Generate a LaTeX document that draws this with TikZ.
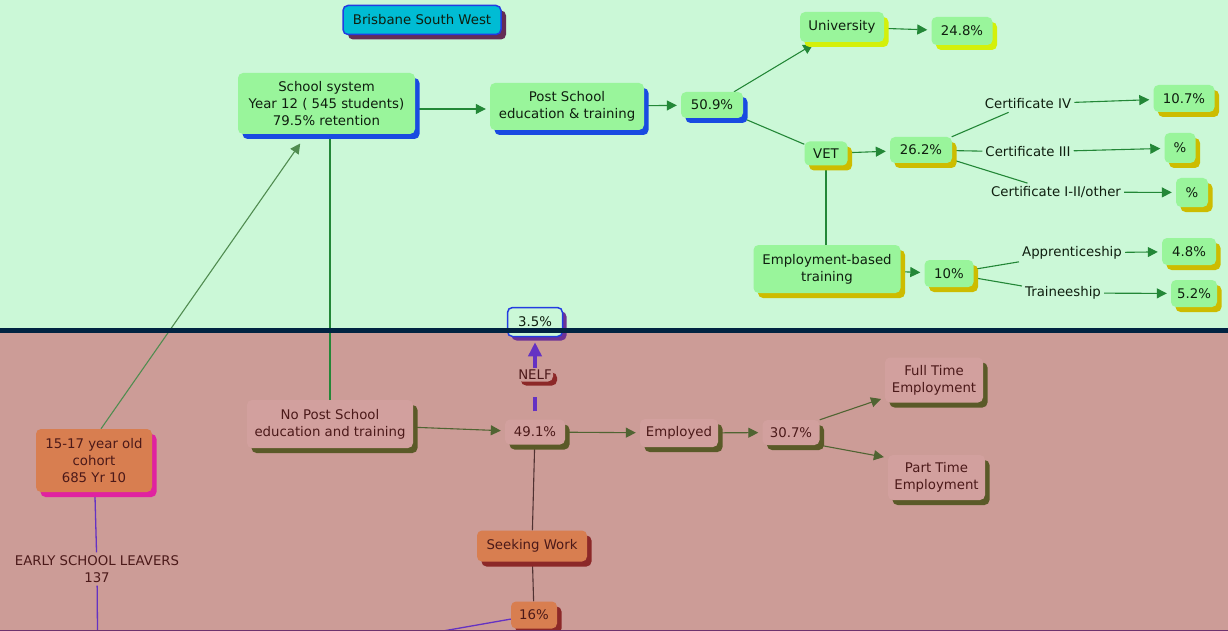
\documentclass[tikz,border=0pt]{standalone}
\usepackage{fontspec}
\setmainfont{DejaVu Sans}
\usetikzlibrary{shadows,arrows.meta,calc}
\pgfdeclarelayer{back}
\pgfdeclarelayer{edges}
\pgfsetlayers{back,edges,main}
\definecolor{topbg}{RGB}{203,248,215}
\definecolor{botbg}{RGB}{204,156,151}
\definecolor{sepc}{RGB}{0,35,65}
\definecolor{ngreen}{RGB}{153,245,155}
\definecolor{npink}{RGB}{210,160,158}
\definecolor{norange}{RGB}{216,126,80}
\definecolor{ncyan}{RGB}{0,188,212}
\definecolor{sblue}{RGB}{25,75,225}
\definecolor{sygreen}{RGB}{212,240,10}
\definecolor{sgold}{RGB}{205,188,0}
\definecolor{solive}{RGB}{90,90,40}
\definecolor{smag}{RGB}{224,35,160}
\definecolor{sdred}{RGB}{140,40,40}
\definecolor{sdark}{RGB}{100,45,85}
\definecolor{spurp}{RGB}{110,50,150}
\definecolor{bblue}{RGB}{35,60,225}
\definecolor{toptext}{RGB}{15,30,15}
\definecolor{bottext}{RGB}{75,25,25}
\definecolor{gline}{RGB}{35,135,55}
\definecolor{cline}{RGB}{80,140,80}
\definecolor{oline}{RGB}{80,100,50}
\definecolor{dline}{RGB}{80,50,50}
\definecolor{pline}{RGB}{100,50,195}
\definecolor{edgec}{RGB}{110,50,110}
\newcommand\dgfont{\fontsize{13.3}{17}\selectfont}
\begin{document}
\begin{tikzpicture}[x=1pt,y=-1pt,
  box/.style={rectangle, rounded corners=5pt, inner sep=0pt, align=center, font=\dgfont, text=toptext},
  gbox/.style={box, fill=ngreen, drop shadow={shadow xshift=4.5pt, shadow yshift=-5pt, fill=#1, opacity=1}},
  pbox/.style={box, fill=npink, text=bottext, drop shadow={shadow xshift=4.5pt, shadow yshift=-5pt, fill=solive, opacity=1}},
  obox/.style={box, fill=norange, text=bottext, drop shadow={shadow xshift=4.5pt, shadow yshift=-5pt, fill=#1, opacity=1}},
  lbl/.style={inner sep=3pt, font=\dgfont, text=toptext, align=center},
  ge/.style={draw=gline, line width=1.1pt},
  ga/.style={ge, -{Triangle[length=10pt,width=10pt]}, shorten >=4pt},
  oe/.style={draw=oline, line width=1.1pt},
  oa/.style={oe, -{Triangle[length=10pt,width=10pt]}, shorten >=4pt},
  de/.style={draw=dline, line width=1.1pt},
  pe/.style={draw=pline, line width=1.3pt},
  pthick/.style={draw=pline, line width=3.5pt}
]
\useasboundingbox (0,0) rectangle (1228,631);
\begin{pgfonlayer}{back}
\fill[topbg] (0,0) rectangle (1228,331);
\fill[botbg] (0,331) rectangle (1228,631);
\end{pgfonlayer}

% top nodes
\node[box, fill=ncyan, draw=bblue, line width=1.5pt, minimum width=158, minimum height=29,
  drop shadow={shadow xshift=5pt, shadow yshift=-5pt, fill=sdark, opacity=1}] (bsw) at (422,20) {Brisbane South West};
\node[gbox=sblue, minimum width=177, minimum height=61] (school) at (326.5,103.5) {School system\\Year 12 ( 545 students)\\79.5\% retention};
\node[gbox=sblue, minimum width=154, minimum height=47] (post) at (567,106.5) {Post School\\education \& training};
\node[gbox=sblue, minimum width=62, minimum height=26] (p509) at (712,105) {50.9\%};
\node[gbox=sygreen, minimum width=84, minimum height=30] (univ) at (842,27) {University};
\node[gbox=sygreen, minimum width=61, minimum height=28] (p248) at (962,31) {24.8\%};
\node[gbox=sgold, minimum width=43, minimum height=24] (vet) at (826,153.5) {VET};
\node[gbox=sgold, minimum width=62, minimum height=26] (p262) at (921,150) {26.2\%};
\node[lbl] (cert4) at (1028,104) {Certificate IV};
\node[lbl] (cert3) at (1028,152) {Certificate III};
\node[lbl] (cert12) at (1056,192) {Certificate I-II/other};
\node[gbox=sgold, minimum width=61, minimum height=27] (p107) at (1184,98.5) {10.7\%};
\node[gbox=sgold, minimum width=31, minimum height=30] (pc3) at (1180,148) {\%};
\node[gbox=sgold, minimum width=32, minimum height=29] (pc12) at (1192,192.5) {\%};
\node[gbox=sgold, minimum width=147, minimum height=48] (ebt) at (827,269) {Employment-based\\training};
\node[gbox=sgold, minimum width=49, minimum height=27] (p10) at (949,273.5) {10\%};
\node[lbl] (appr) at (1072,253) {Apprenticeship};
\node[lbl] (trai) at (1063,293) {Traineeship};
\node[gbox=sgold, minimum width=54, minimum height=27] (p48) at (1189,251.5) {4.8\%};
\node[gbox=sgold, minimum width=46, minimum height=27] (p52) at (1194,293.5) {5.2\%};

% bottom nodes
\node[box, fill=topbg, draw=bblue, line width=1.5pt, minimum width=55, minimum height=29,
  drop shadow={shadow xshift=4pt, shadow yshift=-4pt, fill=spurp, opacity=1}] (p35) at (535,322) {3.5\%};
\node[box, fill=botbg, text=bottext, minimum width=36, minimum height=13,
  drop shadow={shadow xshift=4pt, shadow yshift=-4pt, fill=sdred, opacity=1}] (nelf) at (535,375) {NELF};
\node[obox=smag, minimum width=116, minimum height=63] (cohort) at (94,460.5) {15-17 year old\\cohort\\685 Yr 10};
\node[pbox, minimum width=166, minimum height=48] (nopost) at (330,424) {No Post School\\education and training};
\node[pbox, minimum width=60, minimum height=25] (p491) at (535,432) {49.1\%};
\node[pbox, minimum width=78, minimum height=28] (emp) at (679,433) {Employed};
\node[pbox, minimum width=57, minimum height=25] (p307) at (791,432.5) {30.7\%};
\node[pbox, minimum width=98, minimum height=45] (ft) at (934,380) {Full Time\\Employment};
\node[pbox, minimum width=97, minimum height=45] (pt) at (936.5,477.5) {Part Time\\Employment};
\node[obox=sdred, minimum width=110, minimum height=31] (seek) at (532,546) {Seeking Work};
\node[obox=sdred, minimum width=46, minimum height=27] (p16) at (534,615) {16\%};
\node[lbl, text=bottext] (early) at (97,569) {EARLY SCHOOL LEAVERS\\137};
\coordinate (offA) at (443,631);
\coordinate (offB) at (97.5,631);

% separator and bottom edge
\draw[sepc, line width=5pt] (0,330.8) -- (1228,330.8);
\draw[edgec, line width=1.2pt] (0,630.4) -- (1228,630.4);

\begin{pgfonlayer}{edges}
\draw[ga, draw=cline] ($(cohort.north)+(7,0)$) -- ($(school.south)+(-24,6)$);
\draw[ge] (school.south -| nopost.north) -- (nopost.north);
\draw[ga] ($(school.east)+(0,5.5)$) -- ($(post.west)+(0,2.5)$);
\draw[ga] (post) -- (p509);
\draw[ga] (p509) -- (univ);
\draw[ge] (p509) -- (vet);
\draw[ga] (univ) -- (p248);
\draw[ga] (vet) -- (p262);
\draw[ge] (vet.south) -- (vet.south |- ebt.north);
\draw[ge] (p262) -- (cert4);
\draw[ge] (p262) -- (cert3);
\draw[ge] (p262) -- (cert12);
\draw[ga] (cert4) -- (p107);
\draw[ga] (cert3) -- (pc3);
\draw[ga] (cert12) -- (pc12);
\draw[ga] (ebt) -- (p10);
\draw[ge] (p10) -- (appr);
\draw[ge] (p10) -- (trai);
\draw[ga] (appr) -- (p48);
\draw[ga] (trai) -- (p52);
\draw[oa] (nopost) -- (p491);
\draw[oa] (p491) -- (emp);
\draw[oa] (emp) -- (p307);
\draw[oa] (p307.north east) -- ($(ft.south west)+(0,-5)$);
\draw[oa] (p307.south east) -- ($(pt.north west)+(0,3)$);
\draw[de] (p491) -- (seek);
\draw[de] (seek) -- (p16);
\draw[pe] (p16) -- (offA);
\draw[pe] (cohort) -- (early);
\draw[pe] (early) -- (offB);
\draw[pthick, shorten <=8pt, shorten >=15pt] (p491.north) -- (nelf.south);
\draw[pthick, -{Triangle[length=14pt,width=13pt]}, shorten >=5pt] (nelf.north) -- (p35.south);
\end{pgfonlayer}
\end{tikzpicture}
\end{document}
